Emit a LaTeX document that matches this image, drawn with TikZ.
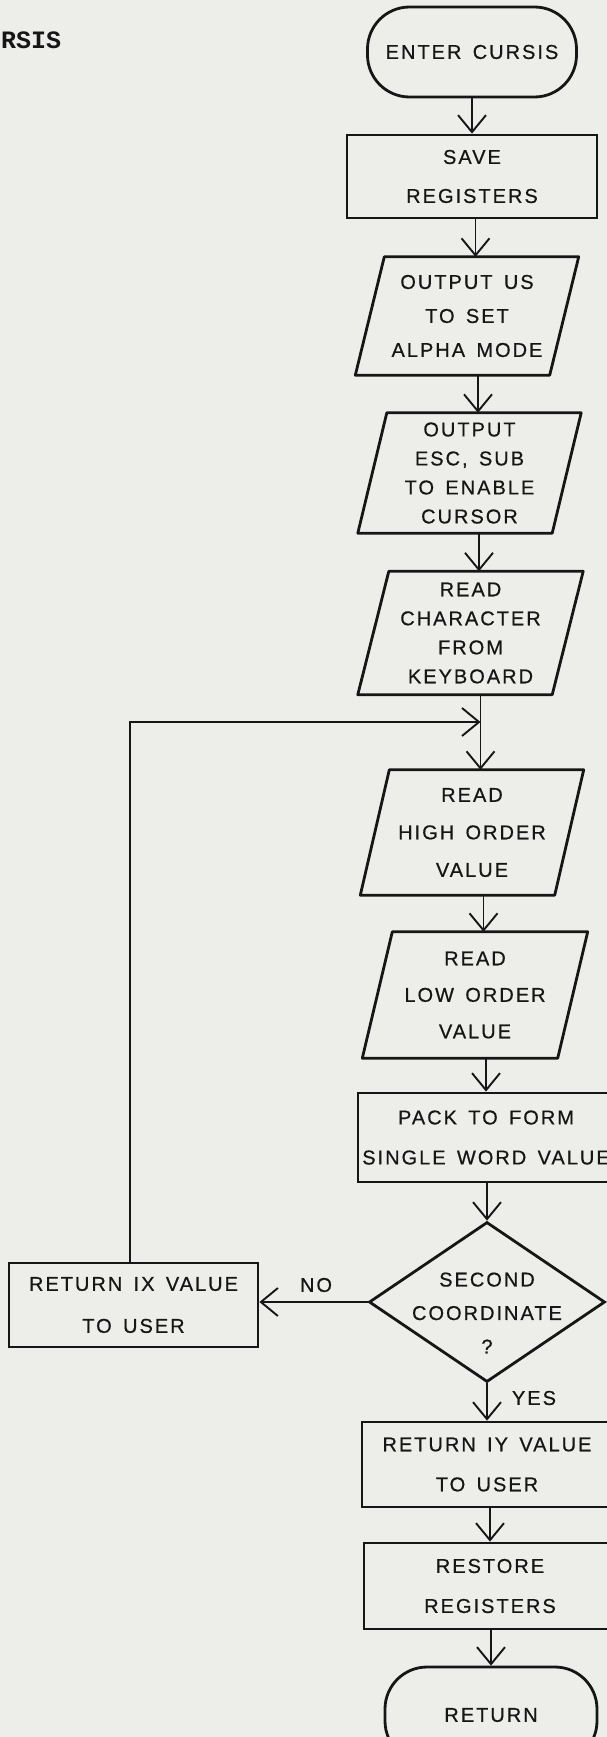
\documentclass[tikz,border=0pt]{standalone}
\usepackage{fontspec}
\usetikzlibrary{arrows.meta,shapes.geometric}
\newfontfamily\handfont[LetterSpace=10,WordSpace=1.5,FakeBold=0.6]{Liberation Sans}
\newfontfamily\typefont{Liberation Mono}
\definecolor{paper}{RGB}{237,237,233}
\definecolor{ink}{RGB}{22,22,22}

% slanted outline of an input/output box around a rectangular base node
\newcommand\ioframe[2]{%
  \draw[draw=ink,line width=2.8pt,line join=round]
    ([xshift=#2]#1.north west) -- ([xshift=#2]#1.north east) --
    ([xshift=-#2]#1.south east) -- ([xshift=-#2]#1.south west) -- cycle;
  \coordinate (#1-in) at ([xshift=8.5pt]#1.north);}

\begin{document}
\begin{tikzpicture}[x=1pt,y=-1pt,
  every node/.style={text=ink},
  hand/.style={font=\handfont\fontsize{20}{#1}\selectfont, align=center},
  hand/.default=38,
  box/.style={draw=ink, line width=2.8pt, rectangle, inner sep=0pt},
  iobase/.style={rectangle, inner sep=0pt},
  term/.style={draw=ink, line width=2.8pt, rectangle, rounded corners=42pt, inner sep=0pt},
  arr/.style={draw=ink, line width=1.9pt, -{Straight Barb[length=17pt,width=28pt,line width=1.9pt]}},
  lbl/.style={font=\handfont\fontsize{20}{20}\selectfont, inner sep=0pt},
]
\useasboundingbox (0,0) rectangle (607,1737);
\fill[paper] (0,0) rectangle (607,1737);
\clip (0,0) rectangle (607,1737);

% heading (typed)
\node[font=\typefont\bfseries\fontsize{25}{25}\selectfont, anchor=west, inner sep=0pt] (title) at (1,40) {RSIS};

% main column
\node[term, hand, minimum width=209pt, minimum height=90pt] (start) at (472,52) {ENTER CURSIS};
\node[box, hand=39, minimum width=250pt, minimum height=83pt] (save) at (472,176.5) {SAVE\\REGISTERS};

\node[iobase, hand=34, minimum width=194pt, minimum height=118pt] (out1) at (467,316) {OUTPUT US\\TO SET\\ALPHA MODE};
\ioframe{out1}{14.5pt}
\node[iobase, hand=29, minimum width=194pt, minimum height=120pt] (esc) at (469.5,473) {OUTPUT\\ESC, SUB\\TO ENABLE\\CURSOR};
\ioframe{esc}{14.5pt}
\node[iobase, hand=29, minimum width=194pt, minimum height=123pt] (rdchar) at (470.5,633) {READ\\CHARACTER\\FROM\\KEYBOARD};
\ioframe{rdchar}{15.5pt}
\node[iobase, hand=37.5, minimum width=194pt, minimum height=125pt] (rdhigh) at (472,832.5) {READ\\HIGH ORDER\\VALUE};
\ioframe{rdhigh}{14.5pt}
\node[iobase, hand=36.5, minimum width=195pt, minimum height=126pt] (rdlow) at (475,995) {READ\\LOW ORDER\\VALUE};
\ioframe{rdlow}{15pt}

\node[box, hand=40, minimum width=256pt, minimum height=89pt] (pack) at (486,1137.5) {PACK TO FORM\\SINGLE WORD VALUE};

\node[diamond, draw=ink, line width=2.8pt, minimum width=236pt, minimum height=160pt, inner sep=0pt] (dec) at (487,1302) {};
\node[hand=33.5, inner sep=0pt] (dectext) at (487,1313) {SECOND\\COORDINATE\\?};

\node[box, hand=42, minimum width=249pt, minimum height=84pt] (retx) at (133.5,1305) {RETURN IX VALUE\\TO USER};
\node[box, hand=40, minimum width=250pt, minimum height=85pt] (rety) at (487,1464.5) {RETURN IY VALUE\\TO USER};
\node[box, hand=40, minimum width=252pt, minimum height=86pt] (rest) at (490,1586) {RESTORE\\REGISTERS};
\node[term, hand, minimum width=212pt, minimum height=96pt] (ret) at (491,1715) {RETURN};

% branch labels
\node[lbl] (nolbl) at (316,1285) {NO};
\node[lbl] (yeslbl) at (534,1398) {YES};

% flow
\draw[arr] (start.south) -- (save.north);
\draw[arr] (save.south -| out1-in) -- (out1-in);
\draw[arr] (out1.south -| esc-in) -- (esc-in);
\draw[arr] (esc.south -| rdchar-in) -- (rdchar-in);
\draw[arr] (rdchar.south -| rdhigh-in) -- (rdhigh-in);
\draw[arr] (rdhigh.south -| rdlow-in) -- (rdlow-in);
\draw[arr] (rdlow.south -| pack.north) -- (pack.north);
\draw[arr] (pack.south -| dec.north) -- (dec.north);
\draw[arr] (dec.south) -- (dec.south |- rety.north);
\draw[arr] (rety.south -| rest.north) -- (rest.north);
\draw[arr] (rest.south -| ret.north) -- (ret.north);
\draw[arr] (dec.west) -- (dec.west -| retx.east);

% loop back from the NO branch
\coordinate (joinrow) at (0,722);
\coordinate (join) at (rdhigh-in |- joinrow);
\draw[arr] ([xshift=-3.5pt]retx.north) |- (join);
\end{tikzpicture}
\end{document}
